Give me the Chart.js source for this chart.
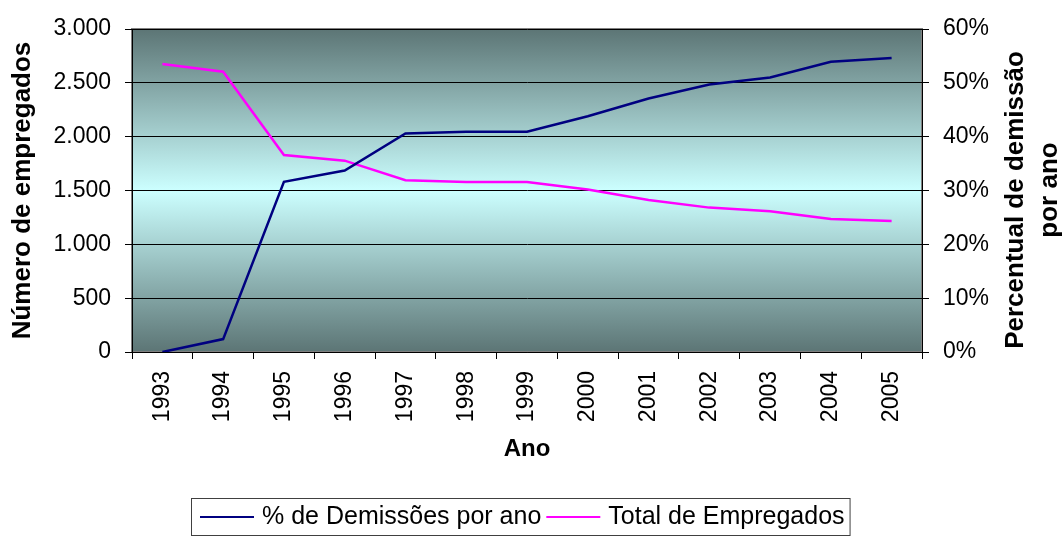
<!DOCTYPE html>
<html>
<head>
<meta charset="utf-8">
<script src="https://cdn.jsdelivr.net/npm/chart.js@4"></script>
<style>
  html, body { margin: 0; padding: 0; background: #fff; }
  #wrap { width: 1064px; height: 539px; }
</style>
</head>
<body>
<div id="wrap"><canvas id="chart" width="1064" height="539"></canvas></div>
<script>
// ----------------------------------------------------
//                 DADOS
// ----------------------------------------------------
const years = ["1993", "1994", "1995", "1996", "1997", "1998", "1999",
               "2000", "2001", "2002", "2003", "2004", "2005"];

// % de demissões por ano (eixo direito)
const pctDemissoes = [0, 2.4, 31.6, 33.7, 40.6, 40.9, 40.9, 43.8, 47.1, 49.7, 51.0, 53.9, 54.6];

// total de empregados (eixo esquerdo)
const totalEmpregados = [2675, 2603, 1830, 1777, 1595, 1579, 1579, 1510, 1412, 1341, 1307, 1235, 1217];

const leftTickLabels  = ["0", "500", "1.000", "1.500", "2.000", "2.500", "3.000"];
const rightTickLabels = ["0%", "10%", "20%", "30%", "40%", "50%", "60%"];

const labelPct   = "% de Demissões por ano";
const labelTotal = "Total de Empregados";
const titleLeft  = "Número de empregados";
const titleRight = ["Percentual de demissão", "por ano"];
const titleX     = "Ano";

const FONT = '"Liberation Sans", Arial, sans-serif';

// ----------------------------------------------------
//          PLUGINS (fundo, título direito, legenda)
// ----------------------------------------------------
const plotBackground = {
  id: "plotBackground",
  beforeDraw(chart) {
    const { ctx, chartArea: a } = chart;
    const g = ctx.createLinearGradient(0, a.top, 0, a.bottom);
    g.addColorStop(0, "#5c7575");
    g.addColorStop(0.5, "#ccffff");
    g.addColorStop(1, "#5c7575");
    ctx.save();
    ctx.fillStyle = g;
    ctx.fillRect(a.left, a.top, a.right - a.left, a.bottom - a.top);
    ctx.strokeStyle = "#808080";
    ctx.lineWidth = 2;
    ctx.strokeRect(a.left, a.top, a.right - a.left, a.bottom - a.top);
    ctx.restore();
  }
};

const rightTitle = {
  id: "rightTitle",
  afterDraw(chart) {
    const ctx = chart.ctx;
    ctx.save();
    ctx.font = "bold 26px " + FONT;
    ctx.fillStyle = "#000";
    ctx.textAlign = "center";
    ctx.textBaseline = "middle";
    const pos = [[1016, 200], [1050, 190]];
    titleRight.forEach((t, i) => {
      ctx.save();
      ctx.translate(pos[i][0], pos[i][1]);
      ctx.rotate(-Math.PI / 2);
      ctx.fillText(t, 0, 0);
      ctx.restore();
    });
    ctx.restore();
  }
};

const legendBox = {
  id: "legendBox",
  afterDraw(chart) {
    const ctx = chart.ctx;
    ctx.save();
    ctx.font = "25px " + FONT;
    ctx.textBaseline = "middle";
    let x = 200;
    const y = 517;
    chart.data.datasets.forEach(ds => {
      ctx.strokeStyle = ds.borderColor;
      ctx.lineWidth = 2;
      ctx.beginPath();
      ctx.moveTo(x, y);
      ctx.lineTo(x + 54, y);
      ctx.stroke();
      x += 62;
      ctx.fillStyle = "#000";
      ctx.fillText(ds.label, x, y);
      x += ctx.measureText(ds.label).width + 5;
    });
    ctx.strokeStyle = "#404040";
    ctx.lineWidth = 1;
    ctx.strokeRect(191.5, 498.5, x - 191, 37);
    ctx.restore();
  }
};

// ----------------------------------------------------
//                 GRÁFICO
// ----------------------------------------------------
const ctx = document.getElementById("chart");

new Chart(ctx, {
  type: "line",
  data: {
    labels: years,
    datasets: [
      {
        label: labelPct,
        data: pctDemissoes,
        yAxisID: "y1",
        borderColor: "#000080",
        backgroundColor: "#000080",
        borderWidth: 2.5,
        pointRadius: 0,
        tension: 0
      },
      {
        label: labelTotal,
        data: totalEmpregados,
        yAxisID: "y",
        borderColor: "#ff00ff",
        backgroundColor: "#ff00ff",
        borderWidth: 2.5,
        pointRadius: 0,
        tension: 0
      }
    ]
  },
  options: {
    responsive: false,
    animation: false,
    layout: { padding: { top: 29, bottom: 67, left: 0, right: 0 } },
    plugins: {
      legend: { display: false },
      tooltip: { enabled: false }
    },
    scales: {
      x: {
        offset: true,
        grid: { offset: true, drawOnChartArea: false, drawTicks: true, tickLength: 7, color: "#000" },
        border: { color: "#000", width: 1 },
        ticks: {
          color: "#000",
          font: { family: FONT, size: 23 },
          minRotation: 90,
          maxRotation: 90,
          padding: 12,
          autoSkip: false
        },
        title: {
          display: true,
          text: titleX,
          color: "#000",
          font: { family: FONT, size: 24, weight: "bold" },
          padding: { top: 0, bottom: 8 }
        },
        afterFit(scale) { scale.height = 120; }
      },
      y: {
        position: "left",
        min: 0,
        max: 3000,
        grid: { color: "#000", lineWidth: 1, tickLength: 7 },
        border: { color: "#000", width: 1 },
        ticks: {
          stepSize: 500,
          color: "#000",
          font: { family: FONT, size: 23 },
          padding: 14,
          callback: (v, i) => leftTickLabels[i]
        },
        title: {
          display: true,
          text: titleLeft,
          color: "#000",
          font: { family: FONT, size: 26, weight: "bold" },
          padding: { top: 7, bottom: 0 }
        },
        afterFit(scale) { scale.width = 132; }
      },
      y1: {
        position: "right",
        min: 0,
        max: 60,
        grid: { drawOnChartArea: false, color: "#000", tickLength: 7 },
        border: { color: "#000", width: 1 },
        ticks: {
          stepSize: 10,
          color: "#000",
          font: { family: FONT, size: 23 },
          padding: 14,
          callback: (v, i) => rightTickLabels[i]
        },
        afterFit(scale) { scale.width = 142; }
      }
    }
  },
  plugins: [plotBackground, rightTitle, legendBox]
});
</script>
</body>
</html>
